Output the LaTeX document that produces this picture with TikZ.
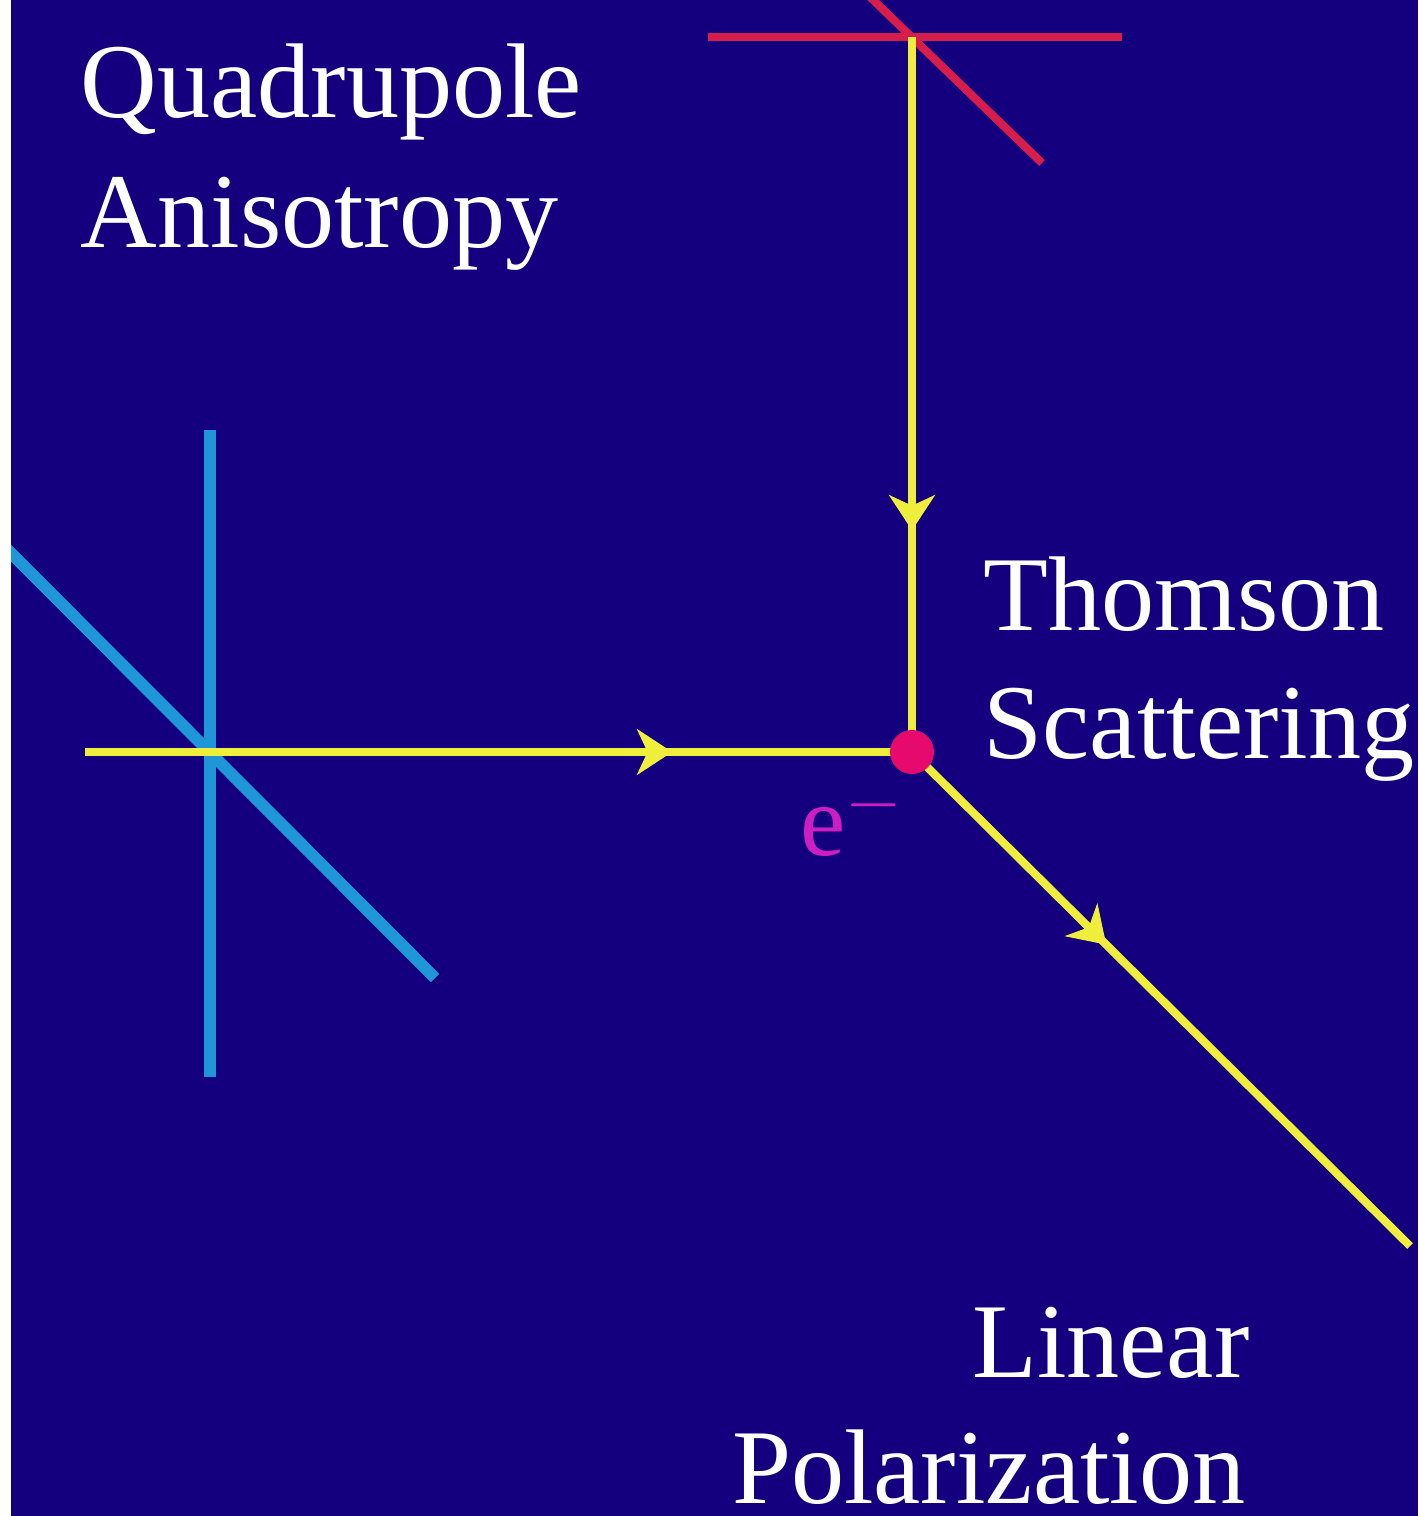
\documentclass[tikz,border=0pt]{standalone}
\usepackage{fontspec}
\setmainfont{Liberation Serif}
\usepackage{tikz}
\usetikzlibrary{arrows.meta,decorations.markings}

\definecolor{slideblue}{RGB}{20,0,126}
\definecolor{photonyellow}{RGB}{240,238,60}
\definecolor{quadcyan}{RGB}{30,150,215}
\definecolor{quadred}{RGB}{215,30,75}
\definecolor{electronpink}{RGB}{230,10,110}
\definecolor{labelmag}{RGB}{205,30,195}

\begin{document}
\begin{tikzpicture}[x=0.01cm, y=-0.01cm,
    label/.style={text=white, inner sep=0pt, font=\fontsize{30.2}{36}\selectfont},
    photon/.style={photonyellow, line width=2.3pt, postaction={decorate},
      decoration={markings, mark=at position #1 with
        {\arrow{Stealth[length=10pt, width=13pt, inset=3pt]}}}},
    redbar/.style={quadred, line width=2.3pt},
    cyanbar/.style={quadcyan, line width=3.4pt}]

    % Page and background
    \useasboundingbox (0,0) rectangle (1418,1516);
    \fill[white] (0,0) rectangle (1418,1516);
    \fill[slideblue] (11,0) rectangle (1418,1516);

    % Centres of the two crosses and the scatterer
    \coordinate (redc) at (912,37);
    \coordinate (cyanc) at (210,752);
    \coordinate (ec) at (912,752);
    \coordinate (hin) at (85,752);
    \coordinate (dout) at (1410,1246);

    \begin{scope}
      \clip (11,0) rectangle (1418,1516);
      % Incoming quadrupole, red (top)
      \draw[redbar] (708,37) -- (1122,37);
      \draw[redbar] (780,-90) -- (1042,163);
      % Incoming quadrupole, cyan (left)
      \draw[cyanbar] (cyanc) ++(0,-322) -- ++(0,647);
      \draw[cyanbar] (-15,527) -- (435,978);
    \end{scope}

    % Photon paths
    \draw[photon=0.69] (redc) -- (ec);
    \draw[photon=0.71] (hin) -- (ec);
    \draw[photon=0.39] (ec) -- (dout);

    % Electron
    \node[circle, fill=electronpink, minimum size=0.44cm, inner sep=0pt] (elec) at (ec) {};
    \node[text=labelmag, inner sep=0pt, anchor=base west,
          font=\fontsize{29}{34}\selectfont] (elabel) at (800,855) {e$^{-}$};

    % Labels
    \node[label, anchor=base west] (quad) at (80,118) {Quadrupole};
    \node[label, anchor=base west] (aniso) at (80,248) {Anisotropy};
    \node[label, anchor=base west] (thom) at (983,630) {Thomson};
    \node[label, anchor=base west] (scat) at (983,758) {Scattering};
    \node[label, anchor=base east] (lin) at (1250,1377) {Linear};
    \node[label, anchor=base east] (pol) at (1246,1503) {Polarization};

\end{tikzpicture}
\end{document}
